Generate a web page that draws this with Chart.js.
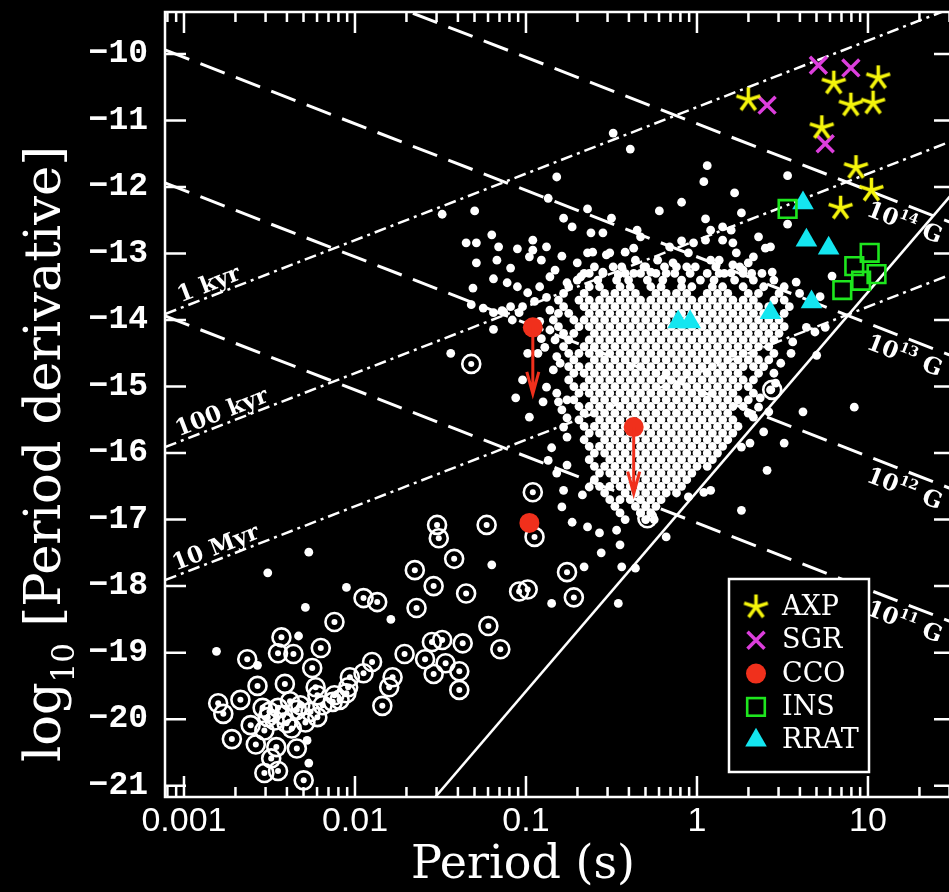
<!DOCTYPE html>
<html>
<head>
<meta charset="utf-8">
<script src="https://cdn.jsdelivr.net/npm/chart.js@4.4.1/dist/chart.umd.min.js"></script>
<style>
html, body { margin: 0; padding: 0; background: #000; overflow: hidden; }
canvas { display: block; background: #000; }
</style>
</head>
<body>
<canvas id="ppdot" width="960" height="892"></canvas>
<script>
// axis ranges (log10 P in s, log10 Pdot)
const xRangeLog = [-3.111, 1.509];
const yRange = [-21.17, -9.37];
const xDecades = [0.001, 0.01, 0.1, 1, 10];
const xTickLabels = ['0.001', '0.01', '0.1', '1', '10'];
const yTickValues = [-21, -20, -19, -18, -17, -16, -15, -14, -13, -12, -11, -10];

// reference lines
const fieldLogB = [14, 13, 12, 11];
const fieldLabels = ['14', '13', '12', '11'];
const ageLogYr = [3, 5, 7];
const ageLabels = ['1 kyr', '100 kyr', '10 Myr'];
const deathSlope = 3;
const deathIntercept = -16.58;

// special classes: log10 P, log10 Pdot
const axpLogP = [0.30, 0.80, 1.06, 0.90, 1.03, 0.73, 0.93, 1.02, 0.84];
const axpLogPdot = [-10.69, -10.44, -10.36, -10.77, -10.74, -11.11, -11.71, -12.05, -12.32];
const sgrLogP = [0.71, 0.90, 0.41, 0.75];
const sgrLogPdot = [-10.17, -10.21, -10.77, -11.35];
const ccoLogP = [-0.96, -0.37, -0.98];
const ccoLogPdot = [-14.11, -15.61, -17.05];
const ccoUpperLimit = [true, true, false];
const insLogP = [0.53, 1.01, 0.92, 1.05, 0.96, 0.85];
const insLogPdot = [-12.33, -12.99, -13.19, -13.31, -13.41, -13.55];
const rratLogP = [0.62, 0.64, 0.77, 0.67, 0.43, -0.11, -0.04];
const rratLogPdot = [-12.24, -12.80, -12.92, -13.73, -13.89, -14.03, -14.03];

// radio pulsars, scattered ones as [log P, log Pdot]
const psrField = [
  [-0.49,-11.19],[-0.39,-11.43],[-0.82,-11.85],[-0.87,-12.17],[-0.64,-12.33],[-0.09,-12.23],[-0.22,-12.36],
  [-1.30,-12.36],[-1.49,-12.41],[-0.78,-12.47],[-0.73,-12.60],[-0.50,-12.47],[-0.55,-12.69],[-0.62,-12.69],
  [-0.35,-12.65],[-0.33,-12.75],[-1.20,-12.72],[-1.35,-12.84],[-1.29,-12.84],[-1.16,-12.90],[-1.05,-12.93],
  [-0.96,-12.80],[-0.96,-12.95],[-0.88,-12.90],[-0.79,-13.04],[-0.64,-12.99],[-0.61,-12.98],[-0.53,-13.02],
  [-0.42,-12.98],[-0.37,-12.92],[-1.29,-13.14],[-1.17,-13.10],[-1.09,-13.22],[-0.98,-13.05],[-0.91,-13.10],
  [-0.83,-13.25],[-0.70,-13.14],[-1.19,-13.38],[-1.11,-13.44],[-1.05,-13.50],[-1.31,-13.52],[-0.99,-13.59],
  [-0.86,-13.35],[-0.76,-13.44],[-0.68,-13.35],[-0.63,-13.30],[-0.55,-13.28],[-0.49,-13.20],[-0.46,-13.32],
  [-0.37,-13.30],[-0.27,-13.28],[-0.23,-13.10],[-0.14,-13.14],[-0.06,-13.20],[-0.16,-12.90],[-0.05,-12.99],
  [-0.02,-12.84],[-1.32,-13.77],[-1.14,-13.86],[-1.02,-13.80],[-0.88,-13.66],[-0.92,-13.50],
  [0.06,-11.68],[0.04,-11.92],[0.22,-12.09],[0.53,-11.83],[0.05,-12.48],[0.26,-12.39],[0.15,-12.60],
  [0.20,-12.65],[0.36,-12.75],[0.40,-12.92],[0.53,-12.56],[-0.09,-12.81],[0.05,-12.80],[0.08,-12.65],
  [0.15,-12.80],[0.23,-12.99],[0.30,-13.14],[0.32,-13.30],[0.27,-13.25],[0.20,-13.29],
  [0.13,-13.10],[0.79,-13.34],[0.58,-13.43],[0.60,-13.60],[-0.12,-13.20],[-0.18,-13.30],[-0.30,-13.20],
  [-0.36,-13.10],[-0.51,-12.99],[0.43,-12.90],[0.21,-12.84],[0.33,-13.05],[0.08,-13.10],[0.21,-13.17],
  [0.13,-13.30],[0.44,-13.28],[0.72,-13.65],[0.66,-13.74],
  [0.64,-14.11],[0.69,-14.18],[0.75,-14.11],[0.56,-14.33],[0.55,-14.50],[0.49,-14.65],[0.70,-14.53],
  [0.45,-14.80],[0.46,-14.95],[0.43,-15.05],[0.37,-15.17],[0.42,-15.38],[0.36,-15.31],[0.33,-15.46],
  [0.62,-15.38],[0.92,-15.31],[0.39,-15.68],[0.31,-15.85],[0.51,-15.85],[0.41,-16.26],[0.26,-15.91],
  [0.26,-16.86],[0.08,-16.56],[0.04,-16.59],[-0.05,-16.66],[-0.18,-17.26],[-0.56,-17.50],[-0.66,-17.71],
  [-0.44,-17.71],[-0.36,-17.73],[-0.46,-18.26],[-0.85,-18.26],
  [-1.44,-14.50],[-0.99,-14.50],[-0.93,-14.50],[-1.02,-14.90],[-1.06,-15.17],[-0.98,-15.46],[-0.88,-15.01],
  [-0.90,-15.23],[-0.82,-15.10],[-0.81,-15.23],[-0.85,-15.92],[-0.87,-16.11],[-0.82,-16.30],[-0.76,-16.18],
  [-0.78,-16.56],[-0.79,-16.81],[-0.73,-17.04],[-0.67,-16.63],[-0.63,-16.51],[-0.64,-17.11],[-0.57,-17.20],
  [-0.47,-17.16],[-1.20,-17.68],[-0.76,-15.76],[-0.78,-15.61],[-0.76,-15.47],[-0.79,-15.35],[-0.76,-15.20],
  [-0.84,-14.75],[-0.80,-14.65],[-0.89,-14.41],[-0.83,-14.30],[-0.86,-14.15],[-0.98,-14.11],
  [-1.08,-14.00],[-1.19,-13.89],[-1.25,-13.82],[-1.04,-13.89],[-1.13,-13.88],[-1.09,-13.80],[-1.19,-14.14],
  [-0.92,-14.02],[-0.95,-13.72],[-0.86,-13.85],[-0.91,-14.28],[-0.82,-14.55],
  [-0.33,-16.90],[-0.25,-17.00],[-0.45,-17.38],
  [-2.27,-17.49],[-2.51,-17.80],[-2.05,-18.02],[-2.29,-18.32],[-1.79,-18.50],[-2.33,-18.75],[-2.81,-18.98],
  [-2.57,-19.19],[-2.28,-20.32],[-2.27,-20.66]
];

// the crowded middle of the cloud, read row by row: [log Pdot, [log P ...]]
const psrCoreRows = [
  [-13.20, [-0.60,-0.44,-0.31,-0.19,-0.01,0.11,0.25]],
  [-13.30, [-0.66,-0.55,-0.42,-0.33,-0.24,-0.13,-0.04,0.06,0.16,0.27,0.38]],
  [-13.40, [-0.70,-0.58,-0.47,-0.40,-0.29,-0.20,-0.09,0.02,0.10,0.22,0.33,0.45]],
  [-13.50, [-0.75,-0.63,-0.57,-0.45,-0.39,-0.27,-0.21,-0.09,-0.03,0.09,0.15,0.27,0.39,0.51]],
  [-13.60, [-0.78,-0.66,-0.54,-0.48,-0.42,-0.36,-0.24,-0.18,-0.12,-0.06,0.06,0.12,0.18,0.30,0.36,0.48]],
  [-13.70, [-0.81,-0.69,-0.63,-0.57,-0.51,-0.45,-0.39,-0.33,-0.27,-0.21,-0.15,-0.09,-0.03,0.03,0.09,0.15,0.21,0.27,0.33,0.45,0.51]],
  [-13.80, [-0.78,-0.66,-0.60,-0.54,-0.48,-0.42,-0.36,-0.30,-0.24,-0.18,-0.12,-0.06,0.00,0.06,0.12,0.18,0.24,0.30,0.36,0.42,0.54]],
  [-13.90, [-0.81,-0.75,-0.63,-0.57,-0.51,-0.45,-0.39,-0.33,-0.27,-0.21,-0.15,-0.09,-0.03,0.03,0.09,0.15,0.21,0.27,0.33,0.39,0.51]],
  [-14.00, [-0.84,-0.72,-0.66,-0.60,-0.54,-0.48,-0.42,-0.36,-0.30,-0.24,-0.18,-0.12,-0.06,0.00,0.06,0.12,0.18,0.24,0.30,0.36,0.42,0.48]],
  [-14.10, [-0.81,-0.69,-0.63,-0.57,-0.51,-0.45,-0.39,-0.33,-0.27,-0.21,-0.15,-0.09,-0.03,0.03,0.09,0.15,0.21,0.27,0.33,0.39,0.45,0.51]],
  [-14.20, [-0.78,-0.72,-0.60,-0.54,-0.48,-0.42,-0.36,-0.30,-0.24,-0.18,-0.12,-0.06,0.00,0.06,0.12,0.18,0.24,0.30,0.36,0.42,0.48]],
  [-14.30, [-0.75,-0.63,-0.57,-0.51,-0.45,-0.39,-0.33,-0.27,-0.21,-0.15,-0.09,-0.03,0.03,0.09,0.15,0.21,0.27,0.33,0.39,0.45]],
  [-14.40, [-0.78,-0.66,-0.60,-0.54,-0.48,-0.42,-0.36,-0.30,-0.24,-0.18,-0.12,-0.06,0.00,0.06,0.12,0.18,0.24,0.30,0.36,0.42]],
  [-14.50, [-0.75,-0.69,-0.63,-0.57,-0.51,-0.45,-0.39,-0.33,-0.27,-0.21,-0.15,-0.09,-0.03,0.03,0.09,0.15,0.21,0.27,0.33,0.45]],
  [-14.60, [-0.72,-0.60,-0.54,-0.48,-0.42,-0.36,-0.30,-0.24,-0.18,-0.12,-0.06,0.00,0.06,0.12,0.18,0.24,0.30,0.36,0.42]],
  [-14.70, [-0.75,-0.69,-0.63,-0.57,-0.51,-0.45,-0.39,-0.33,-0.27,-0.21,-0.15,-0.09,-0.03,0.03,0.09,0.15,0.21,0.27,0.33,0.39]],
  [-14.80, [-0.72,-0.66,-0.60,-0.54,-0.48,-0.42,-0.36,-0.30,-0.24,-0.18,-0.12,-0.06,0.00,0.06,0.12,0.18,0.24,0.36]],
  [-14.90, [-0.75,-0.63,-0.57,-0.51,-0.45,-0.39,-0.33,-0.27,-0.21,-0.15,-0.09,-0.03,0.03,0.09,0.15,0.21,0.27,0.33]],
  [-15.00, [-0.72,-0.66,-0.60,-0.54,-0.48,-0.42,-0.36,-0.30,-0.24,-0.18,-0.12,-0.06,0.00,0.06,0.12,0.18,0.24,0.30]],
  [-15.10, [-0.69,-0.63,-0.57,-0.51,-0.45,-0.39,-0.33,-0.27,-0.21,-0.15,-0.09,-0.03,0.03,0.09,0.15,0.21,0.33]],
  [-15.20, [-0.72,-0.60,-0.54,-0.48,-0.42,-0.36,-0.30,-0.24,-0.18,-0.12,-0.06,0.00,0.06,0.12,0.18,0.24,0.30]],
  [-15.30, [-0.69,-0.63,-0.57,-0.51,-0.45,-0.39,-0.33,-0.27,-0.21,-0.15,-0.09,-0.03,0.03,0.09,0.15,0.21,0.27]],
  [-15.40, [-0.66,-0.60,-0.54,-0.48,-0.42,-0.36,-0.30,-0.24,-0.18,-0.12,-0.06,0.00,0.06,0.12,0.18,0.30]],
  [-15.50, [-0.69,-0.57,-0.51,-0.45,-0.39,-0.33,-0.27,-0.21,-0.15,-0.09,-0.03,0.03,0.09,0.15,0.21]],
  [-15.60, [-0.66,-0.60,-0.54,-0.48,-0.42,-0.36,-0.30,-0.24,-0.18,-0.12,-0.06,0.00,0.06,0.12,0.18,0.24]],
  [-15.70, [-0.63,-0.57,-0.51,-0.45,-0.39,-0.33,-0.27,-0.21,-0.15,-0.09,-0.03,0.03,0.09,0.15,0.21]],
  [-15.80, [-0.66,-0.54,-0.48,-0.42,-0.36,-0.30,-0.24,-0.18,-0.12,-0.06,0.00,0.06,0.12,0.18]],
  [-15.90, [-0.63,-0.57,-0.51,-0.45,-0.39,-0.33,-0.27,-0.21,-0.15,-0.09,-0.03,0.03,0.09,0.15]],
  [-16.00, [-0.60,-0.54,-0.48,-0.42,-0.36,-0.30,-0.24,-0.18,-0.12,-0.06,0.00,0.06,0.12]],
  [-16.10, [-0.63,-0.51,-0.45,-0.39,-0.33,-0.27,-0.21,-0.15,-0.09,-0.03,0.03,0.09]],
  [-16.20, [-0.60,-0.54,-0.48,-0.42,-0.36,-0.30,-0.24,-0.18,-0.12,-0.06,0.00,0.06]],
  [-16.30, [-0.57,-0.51,-0.45,-0.39,-0.33,-0.27,-0.21,-0.15,-0.09,-0.03]],
  [-16.40, [-0.60,-0.48,-0.42,-0.36,-0.30,-0.24,-0.18,-0.12,-0.06]],
  [-16.50, [-0.57,-0.51,-0.45,-0.39,-0.33,-0.27,-0.21,-0.15,-0.09]],
  [-16.60, [-0.54,-0.42,-0.36,-0.30,-0.24,-0.18,-0.12]],
  [-16.70, [-0.51,-0.45,-0.39,-0.33,-0.27,-0.21]],
  [-16.80, [-0.48,-0.36,-0.30,-0.24]],
  [-16.90, [-0.45,-0.33,-0.27]],
  [-17.00, [-0.42,-0.30]]
];

// pulsars in binaries (circled)
const binaries = [
  [-1.32,-14.66],[-0.96,-16.59],[-1.23,-17.08],[-0.95,-17.26],[-1.52,-17.08],[-1.51,-17.28],[-1.42,-17.59],
  [-0.76,-17.79],[0.44,-15.05],[-0.29,-16.98],[-0.72,-18.17],[-1.65,-17.76],[-1.54,-18.00],[-1.35,-18.11],
  [-1.04,-18.08],[-0.99,-18.05],[-1.64,-18.33],[-1.95,-18.18],[-1.87,-18.24],[-2.12,-18.54],[-2.43,-18.77],
  [-2.45,-19.01],[-2.36,-19.02],[-2.20,-18.93],[-2.63,-19.10],[-2.57,-19.50],[-2.41,-19.47],[-2.25,-19.23],
  [-2.03,-19.37],[-1.95,-19.31],[-1.90,-19.14],[-1.71,-19.02],[-1.55,-18.84],[-1.49,-18.81],[-1.37,-18.86],
  [-1.22,-18.60],[-1.15,-18.95],[-1.59,-19.10],[-1.47,-19.16],[-1.39,-19.28],[-1.54,-19.32],[-1.39,-19.56],
  [-1.78,-19.37],[-1.80,-19.52],[-1.84,-19.80],[-2.80,-19.76],[-2.77,-19.92],[-2.67,-19.71],[-2.54,-19.83],
  [-2.45,-19.83],[-2.38,-19.73],[-2.34,-19.86],[-2.22,-19.64],[-2.13,-19.74],[-2.05,-19.61],[-2.22,-19.97],
  [-2.29,-20.05],[-2.40,-20.06],[-2.47,-20.02],[-2.51,-19.97],[-2.72,-20.30],[-2.58,-20.38],[-2.46,-20.42],
  [-2.34,-20.44],[-2.53,-20.81],[-2.45,-20.78],[-2.30,-20.92],[-2.49,-20.59],[-2.23,-19.52],[-2.12,-19.64],
  [-2.04,-19.52],[-2.50,-19.89],[-2.42,-19.94],[-2.32,-19.79],[-2.26,-19.89],[-2.37,-20.14],[-2.53,-20.17],
  [-2.61,-20.09],[-2.19,-19.79],[-2.09,-19.71]
];

const legendNames = ['AXP', 'SGR', 'CCO', 'INS', 'RRAT'];
const colors = { axp: '#f5f50c', sgr: '#dc3edc', cco: '#f0301c', ins: '#1ee61e', rrat: '#14e6f0', fg: '#ffffff' };

const serif = "'DejaVu Serif', 'Liberation Serif', serif";

const pts = (lp, lpd) => lp.map((v, i) => ({ x: Math.pow(10, v), y: lpd[i] }));
const pairPts = arr => arr.map(([lp, lpd]) => ({ x: Math.pow(10, lp), y: lpd }));
const rowPts = rows => rows.flatMap(([lpd, lps]) => lps.map(lp => ({ x: Math.pow(10, lp), y: lpd })));
const lineThrough = (slope, icpt, from, to) => [from, to].map(lp => ({ x: Math.pow(10, lp), y: slope * lp + icpt }));
const fieldIcpt = b => 2 * b - 39.05;
const ageIcpt = a => -(a + 7.80);

function starImage(r, color, lw) {
  const c = document.createElement('canvas');
  c.width = c.height = Math.ceil(2 * r + lw + 2);
  const g = c.getContext('2d');
  const m = c.width / 2;
  g.strokeStyle = color; g.lineWidth = lw; g.lineCap = 'butt';
  for (let k = 0; k < 5; k++) {
    const a = -Math.PI / 2 + k * 2 * Math.PI / 5;
    g.beginPath(); g.moveTo(m, m); g.lineTo(m + r * Math.cos(a), m + r * Math.sin(a)); g.stroke();
  }
  return c;
}
const starPt = starImage(12.5, colors.axp, 3.5);

const lineSets = [];
fieldLogB.forEach(b => lineSets.push({
  data: lineThrough(-1, fieldIcpt(b), xRangeLog[0], xRangeLog[1]), showLine: true, pointRadius: 0,
  borderColor: colors.fg, borderWidth: 3, borderDash: [26, 12], order: 10
}));
ageLogYr.forEach(a => lineSets.push({
  data: lineThrough(1, ageIcpt(a), xRangeLog[0], xRangeLog[1]), showLine: true, pointRadius: 0,
  borderColor: colors.fg, borderWidth: 2.5, borderDash: [12, 5, 3, 5], order: 10
}));
lineSets.push({
  data: lineThrough(deathSlope, deathIntercept, -1.7, 1.7), showLine: true, pointRadius: 0,
  borderColor: colors.fg, borderWidth: 2.5, order: 10
});

const datasets = lineSets.concat([
  { label: 'PSR', data: pairPts(psrField).concat(rowPts(psrCoreRows)), pointRadius: 4.4, pointBackgroundColor: colors.fg, pointBorderWidth: 0, order: 8 },
  { label: 'Binary ring', data: pairPts(binaries), pointRadius: 9, pointBackgroundColor: 'rgba(0,0,0,0)', pointBorderColor: colors.fg, pointBorderWidth: 2.6, order: 7 },
  { label: 'Binary', data: pairPts(binaries), pointRadius: 3, pointBackgroundColor: colors.fg, pointBorderWidth: 0, order: 7 },
  { label: 'AXP', data: pts(axpLogP, axpLogPdot), pointStyle: starPt, pointRadius: 12, order: 1 },
  { label: 'SGR', data: pts(sgrLogP, sgrLogPdot), pointStyle: 'crossRot', pointRadius: 12, pointBorderColor: colors.sgr, pointBorderWidth: 3.5, order: 1 },
  { label: 'CCO', data: pts(ccoLogP, ccoLogPdot), pointStyle: 'circle', pointRadius: 10, pointBackgroundColor: colors.cco, pointBorderWidth: 0, order: 1 },
  { label: 'INS', data: pts(insLogP, insLogPdot), pointStyle: 'rect', pointRadius: 12.5, pointBackgroundColor: 'rgba(0,0,0,0)', pointBorderColor: colors.ins, pointBorderWidth: 2.6, order: 1 },
  { label: 'RRAT', data: pts(rratLogP, rratLogPdot), pointStyle: 'triangle', pointRadius: 12.5, pointBackgroundColor: colors.rrat, pointBorderWidth: 0, order: 1 }
]);

function fontFor(p, size, weight) {
  return weight + ' ' + ((p.sup || p.sub) ? Math.round(size * 0.6) : size) + 'px ' + serif;
}
function drawRich(ctx, parts, x, y, size, weight) {
  weight = weight || 'normal';
  let w = 0;
  parts.forEach(p => { ctx.font = fontFor(p, size, weight); w += ctx.measureText(p.t).width; });
  let cx = x - w / 2;
  ctx.textAlign = 'left'; ctx.textBaseline = 'alphabetic';
  parts.forEach(p => {
    ctx.font = fontFor(p, size, weight);
    const dy = p.sup ? -size * 0.42 : (p.sub ? size * 0.28 : 0);
    ctx.fillText(p.t, cx, y + dy);
    cx += ctx.measureText(p.t).width;
  });
}

function labelOnLine(chart, slope, icpt, lp, parts, dy) {
  const xs = chart.scales.x, ys = chart.scales.y, ctx = chart.ctx;
  const x1 = xs.getPixelForValue(Math.pow(10, lp)), y1 = ys.getPixelForValue(slope * lp + icpt);
  const x2 = xs.getPixelForValue(Math.pow(10, lp + 0.1)), y2 = ys.getPixelForValue(slope * (lp + 0.1) + icpt);
  ctx.save();
  ctx.translate(x1, y1);
  ctx.rotate(Math.atan2(y2 - y1, x2 - x1));
  drawRich(ctx, parts, 0, dy, 23, 'bold');
  ctx.restore();
}

const decorations = {
  id: 'decorations',
  beforeDraw(chart) {
    const ctx = chart.ctx;
    ctx.save(); ctx.fillStyle = '#000'; ctx.fillRect(0, 0, chart.width, chart.height); ctx.restore();
  },
  afterDatasetsDraw(chart) {
    const ctx = chart.ctx, xs = chart.scales.x, ys = chart.scales.y;
    ctx.save();
    // upper-limit arrows for the CCOs
    ctx.strokeStyle = colors.cco; ctx.lineWidth = 3;
    ccoLogP.forEach((lp, i) => {
      if (!ccoUpperLimit[i]) return;
      const px = xs.getPixelForValue(Math.pow(10, lp));
      const py0 = ys.getPixelForValue(ccoLogPdot[i]);
      const py1 = ys.getPixelForValue(ccoLogPdot[i] - 1);
      ctx.beginPath();
      ctx.moveTo(px, py0); ctx.lineTo(px, py1);
      ctx.moveTo(px - 6, py1 - 22); ctx.lineTo(px, py1); ctx.lineTo(px + 6, py1 - 22);
      ctx.stroke();
    });
    // legend box
    const bx = 729, by = 579, bw = 140, bh = 193;
    ctx.fillStyle = '#000';
    ctx.fillRect(bx, by, bw, bh);
    ctx.strokeStyle = colors.fg; ctx.lineWidth = 2.5;
    ctx.strokeRect(bx, by, bw, bh);
    legendNames.forEach((name, i) => {
      const mx = 756, my = 607 + i * 33.3;
      ctx.save();
      if (name === 'AXP') ctx.drawImage(starPt, mx - starPt.width / 2, my - starPt.height / 2);
      if (name === 'SGR') {
        ctx.strokeStyle = colors.sgr; ctx.lineWidth = 3.5; ctx.beginPath();
        ctx.moveTo(mx - 8.5, my - 8.5); ctx.lineTo(mx + 8.5, my + 8.5);
        ctx.moveTo(mx + 8.5, my - 8.5); ctx.lineTo(mx - 8.5, my + 8.5); ctx.stroke();
      }
      if (name === 'CCO') { ctx.fillStyle = colors.cco; ctx.beginPath(); ctx.arc(mx, my, 10, 0, 2 * Math.PI); ctx.fill(); }
      if (name === 'INS') { ctx.strokeStyle = colors.ins; ctx.lineWidth = 2.6; ctx.strokeRect(mx - 8.8, my - 8.8, 17.6, 17.6); }
      if (name === 'RRAT') {
        ctx.fillStyle = colors.rrat; ctx.beginPath();
        ctx.moveTo(mx, my - 12.5); ctx.lineTo(mx + 10.8, my + 6.25); ctx.lineTo(mx - 10.8, my + 6.25); ctx.closePath(); ctx.fill();
      }
      ctx.restore();
      ctx.fillStyle = colors.fg; ctx.font = '27px ' + serif; ctx.textAlign = 'left'; ctx.textBaseline = 'middle';
      ctx.fillText(name, 782, my + 1);
    });
    // line labels
    ctx.fillStyle = colors.fg;
    const agePos = [-2.83, -2.755, -2.79];
    ageLogYr.forEach((a, i) => labelOnLine(chart, 1, ageIcpt(a), agePos[i], [{ t: ageLabels[i] }], -5));
    fieldLogB.forEach((b, i) => labelOnLine(chart, -1, fieldIcpt(b), 1.25, [{ t: '10' }, { t: fieldLabels[i], sup: true }, { t: ' G' }], 24));
    ctx.restore();
  },
  afterDraw(chart) {
    const ctx = chart.ctx, xs = chart.scales.x, ys = chart.scales.y;
    const { left, right, top, bottom } = chart.chartArea;
    ctx.save();
    ctx.strokeStyle = colors.fg; ctx.lineWidth = 2.5;
    ctx.strokeRect(left, top, right - left, bottom - top);
    ctx.beginPath();
    xs.ticks.forEach(t => {
      const px = xs.getPixelForValue(t.value);
      const len = t.major ? 21 : 10;
      ctx.moveTo(px, bottom); ctx.lineTo(px, bottom - len);
      ctx.moveTo(px, top); ctx.lineTo(px, top + len);
    });
    ys.ticks.forEach(t => {
      const py = ys.getPixelForValue(t.value);
      ctx.moveTo(left, py); ctx.lineTo(left + 21, py);
      ctx.moveTo(right, py); ctx.lineTo(right - 21, py);
    });
    ctx.stroke();
    // axis titles
    ctx.fillStyle = colors.fg;
    drawRich(ctx, [{ t: 'Period (s)' }], 523, 878, 46);
    ctx.translate(60, 454);
    ctx.rotate(-Math.PI / 2);
    drawRich(ctx, [{ t: 'log' }, { t: '10', sub: true }, { t: ' [Period derivative]' }], 0, 0, 51);
    ctx.restore();
  }
};

const isDecade = v => Math.abs(Math.log10(v) - Math.round(Math.log10(v))) < 1e-9;

new Chart(document.getElementById('ppdot'), {
  type: 'scatter',
  data: { datasets: datasets },
  options: {
    responsive: false,
    devicePixelRatio: 1,
    animation: false,
    layout: { autoPadding: false, padding: { top: 12, right: 5, left: 0, bottom: 0 } },
    plugins: { legend: { display: false }, tooltip: { enabled: false } },
    scales: {
      x: {
        type: 'logarithmic',
        min: Math.pow(10, xRangeLog[0]),
        max: Math.pow(10, xRangeLog[1]),
        grid: { display: false, drawTicks: false },
        border: { display: false },
        afterBuildTicks: scale => {
          const ticks = [];
          xDecades.concat([0.0001]).forEach(d => {
            for (let k = 1; k <= 9; k++) {
              const v = d * k;
              if (v >= scale.min && v <= scale.max) ticks.push({ value: v, major: k === 1 });
            }
          });
          ticks.sort((a, b) => a.value - b.value);
          scale.ticks = ticks;
        },
        afterFit: scale => { scale.height = 95; scale.paddingLeft = 0; scale.paddingRight = 0; },
        ticks: {
          autoSkip: false, maxRotation: 0, minRotation: 0, padding: 4,
          color: colors.fg,
          font: { family: "'Liberation Sans', Arial, sans-serif", size: 34, lineHeight: 1.2 },
          callback: v => {
            if (!isDecade(v)) return '';
            const i = xDecades.findIndex(d => Math.abs(d - v) / d < 1e-6);
            return i >= 0 ? xTickLabels[i] : '';
          }
        }
      },
      y: {
        type: 'linear',
        min: yRange[0],
        max: yRange[1],
        grid: { display: false, drawTicks: false },
        border: { display: false },
        afterBuildTicks: scale => { scale.ticks = yTickValues.map(v => ({ value: v })); },
        afterFit: scale => { scale.width = 165; scale.paddingTop = 0; scale.paddingBottom = 0; },
        ticks: {
          padding: 17,
          color: colors.fg,
          font: { family: "'Liberation Mono', 'DejaVu Sans Mono', monospace", size: 33, weight: 'bold' },
          callback: v => '\u2212' + Math.abs(v)
        }
      }
    }
  },
  plugins: [decorations]
});
</script>
</body>
</html>
